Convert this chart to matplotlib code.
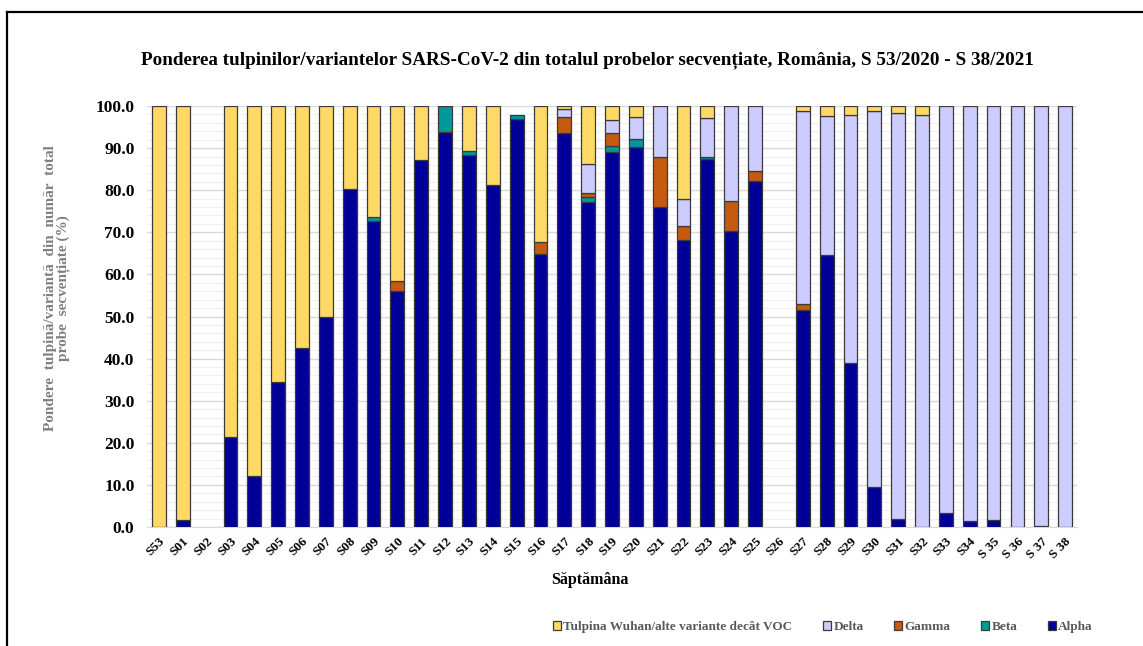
import matplotlib.pyplot as plt
import numpy as np
from matplotlib.patches import Patch
from matplotlib.lines import Line2D
from matplotlib.ticker import MultipleLocator

plt.rcParams['font.family'] = ['Liberation Serif', 'DejaVu Serif']
plt.rcParams['font.weight'] = 'bold'

# week labels
weeks = ['S53', 'S01', 'S02', 'S03', 'S04', 'S05', 'S06', 'S07', 'S08', 'S09',
         'S10', 'S11', 'S12', 'S13', 'S14', 'S15', 'S16', 'S17', 'S18', 'S19',
         'S20', 'S21', 'S22', 'S23', 'S24', 'S25', 'S26', 'S27', 'S28', 'S29',
         'S30', 'S31', 'S32', 'S33', 'S34', 'S 35', 'S 36', 'S 37', 'S 38']

# shares (%) per week
alpha = [0, 1.7, 0, 21.4, 12.2, 34.5, 42.6, 50.0, 80.2, 72.8,
         56.0, 87.1, 93.9, 88.4, 81.3, 96.9, 64.8, 93.6, 77.1, 89.0,
         90.2, 76.1, 68.2, 87.4, 70.2, 82.1, 0, 51.5, 64.5, 39.0,
         9.6, 2.0, 0, 3.3, 1.4, 1.7, 0, 0.3, 0]
beta = [0, 0, 0, 0, 0, 0, 0, 0, 0, 0.9,
        0, 0, 6.1, 0.8, 0, 1.0, 0, 0, 1.2, 1.4,
        1.9, 0, 0, 0.6, 0, 0, 0, 0, 0, 0,
        0, 0, 0, 0, 0, 0, 0, 0, 0]
gamma = [0, 0, 0, 0, 0, 0, 0, 0, 0, 0,
         2.4, 0, 0, 0, 0, 0, 2.9, 3.9, 1.0, 3.3,
         0, 11.9, 3.3, 0, 7.2, 2.5, 0, 1.4, 0, 0,
         0, 0, 0, 0, 0, 0, 0, 0, 0]
delta = [0, 0, 0, 0, 0, 0, 0, 0, 0, 0,
         0, 0, 0, 0, 0, 0, 0, 1.9, 6.9, 3.0,
         5.3, 12.0, 6.4, 9.1, 22.6, 15.4, 0, 45.8, 33.2, 58.9,
         89.1, 96.3, 97.9, 96.7, 98.6, 98.3, 100, 99.7, 100]
wuhan = [100, 98.3, 0, 78.6, 87.8, 65.5, 57.4, 50.0, 19.8, 26.3,
         41.6, 12.9, 0, 10.8, 18.7, 0, 32.3, 0.6, 13.8, 3.3,
         2.6, 0, 22.1, 2.9, 0, 0, 0, 1.3, 2.3, 2.1,
         1.3, 1.7, 2.1, 0, 0, 0, 0, 0, 0]

names = ['Alpha', 'Beta', 'Gamma', 'Delta', 'Tulpina Wuhan/alte variante decât VOC']
colors = ['#000099', '#009999', '#C55A11', '#CCCCFF', '#FFD966']
series = [alpha, beta, gamma, delta, wuhan]

fig = plt.figure(figsize=(11.43, 6.46), dpi=100)
ax = fig.add_axes([0.1286, 0.1842, 0.8137, 0.6517])

x = np.arange(len(weeks))
bottom = np.zeros(len(weeks))
for vals, c in zip(series, colors):
    v = np.array(vals, dtype=float)
    keep = v > 0
    ax.bar(x[keep], v[keep], 0.58, bottom=bottom[keep], color=c,
           edgecolor='#3a3a3a', linewidth=0.9, zorder=3)
    bottom += v

ax.set_xlim(-0.5, 38.5)
ax.set_ylim(0, 100)
ax.yaxis.set_major_locator(MultipleLocator(10))
ax.yaxis.set_minor_locator(MultipleLocator(2))
ax.yaxis.set_major_formatter(lambda v, p: f'{v:.1f}')
ax.grid(axis='y', which='major', color='#d9d9d9', linewidth=1, zorder=0)
ax.grid(axis='y', which='minor', color='#f0f0f0', linewidth=0.8, zorder=0)
ax.tick_params(axis='y', which='both', length=0, labelsize=12.5, pad=9)
ax.tick_params(axis='x', length=0, labelsize=9.5, pad=6)
ax.set_xticks(x)
ax.set_xticklabels(weeks, rotation=45, ha='right', rotation_mode='anchor')
for s in ['top', 'right', 'left']:
    ax.spines[s].set_visible(False)
ax.spines['bottom'].set_color('#d9d9d9')

fig.text(0.514, 0.907,
         'Ponderea tulpinilor/variantelor SARS-CoV-2 din totalul probelor secvențiate, România, S 53/2020 - S 38/2021',
         ha='center', va='center', fontsize=13.8, fontweight='bold')
fig.text(0.516, 0.102, 'Săptămâna', ha='center', va='center', fontsize=11.5, fontweight='bold')
fig.text(0.05, 0.554, 'Pondere  tulpină/variantă  din  număr  total\nprobe  secvențiate (%)',
         ha='center', va='center', rotation=90, fontsize=11, fontweight='bold',
         color='#7f7f7f', linespacing=1.0)

handles = [Patch(facecolor=c, edgecolor='#3a3a3a', linewidth=0.9) for c in colors[::-1]]
fig.legend(handles, names[::-1], loc='center', bbox_to_anchor=(0.72, 0.029), ncol=5,
           frameon=False, fontsize=9.5, handlelength=0.6, handleheight=0.6,
           handletextpad=0.2, columnspacing=2.3, labelcolor='#595959')

# frame around the picture
fig.add_artist(Line2D([0.006, 0.006], [0, 0.981], color='black', linewidth=1.6))
fig.add_artist(Line2D([0.006, 1.0], [0.981, 0.981], color='black', linewidth=1.6))

fig.savefig('out.png', dpi=100)
